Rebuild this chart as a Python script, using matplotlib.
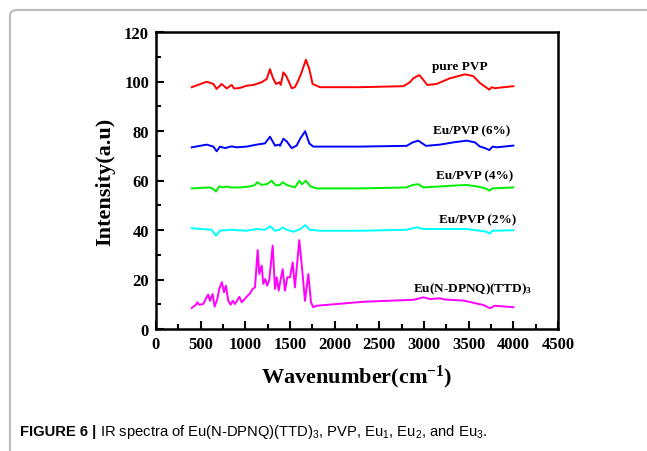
import matplotlib
matplotlib.use("Agg")
import matplotlib.pyplot as plt
from matplotlib.patches import FancyBboxPatch
from matplotlib.ticker import MultipleLocator

plt.rcParams["mathtext.default"] = "regular"

# ---- data ----
pvp_x = [400, 567, 642, 679, 735, 791, 847, 873, 921, 959, 1015, 1090, 1183, 1239, 1276,
         1306, 1343, 1381, 1396, 1426, 1455, 1481, 1519, 1555, 1593, 1630, 1678, 1716,
         1753, 1835, 2283, 2768, 2843, 2880, 2947, 2985, 3037, 3140, 3290, 3458, 3551,
         3626, 3731, 3757, 3793, 4000]
pvp_y = [97.7, 99.9, 99.0, 97.0, 99.0, 97.2, 98.6, 97.2, 97.3, 97.6, 98.3, 98.6, 99.7, 101.0,
         105.0, 101.7, 99.0, 99.7, 98.6, 103.7, 102.4, 100.4, 97.3, 97.7, 100.4, 103.7,
         108.8, 105.0, 99.0, 97.7, 97.7, 98.1, 99.7, 101.3, 102.6, 101.0, 98.6, 99.0,
         101.3, 102.9, 102.2, 99.4, 96.7, 97.7, 97.3, 98.1]

eu6_x = [400, 567, 642, 679, 716, 772, 847, 903, 1015, 1127, 1220, 1276, 1332, 1381, 1388,
         1426, 1463, 1519, 1574, 1619, 1670, 1716, 1760, 2283, 2806, 2873, 2936, 3022,
         3179, 3328, 3477, 3570, 3626, 3682, 3731, 3768, 3812, 4000]
eu6_y = [73.4, 74.5, 73.7, 71.8, 73.7, 73.1, 73.8, 73.4, 73.7, 74.5, 75.0, 77.7, 74.1, 74.5,
         74.0, 76.9, 75.8, 73.1, 74.1, 77.2, 79.9, 75.0, 73.7, 73.7, 74.0, 75.4, 76.1,
         74.0, 74.5, 75.4, 76.1, 75.4, 73.7, 73.1, 72.3, 73.7, 73.4, 74.1]

eu4_x = [400, 604, 642, 671, 708, 753, 791, 828, 940, 1052, 1108, 1134, 1183, 1245, 1294,
         1343, 1388, 1418, 1463, 1519, 1555, 1604, 1633, 1678, 1730, 1798, 2283, 2806,
         2873, 2936, 2992, 3179, 3365, 3477, 3589, 3645, 3701, 3731, 3768, 4000]
eu4_y = [56.8, 57.2, 56.6, 55.5, 57.6, 57.2, 57.6, 57.2, 57.2, 57.6, 58.2, 59.3, 58.2, 58.6,
         59.9, 58.0, 58.2, 59.3, 58.2, 57.6, 57.2, 59.9, 58.5, 59.9, 57.6, 56.8, 56.8,
         57.2, 58.2, 58.5, 57.2, 57.6, 58.0, 58.2, 57.6, 57.2, 56.6, 55.9, 56.8, 57.2]

eu2_x = [400, 622, 671, 716, 828, 1015, 1127, 1220, 1276, 1332, 1381, 1418, 1463, 1537,
         1619, 1670, 1722, 1835, 2283, 2806, 2918, 2992, 3179, 3477, 3626, 3701, 3731,
         3768, 4000]
eu2_y = [40.7, 40.1, 37.7, 39.7, 40.1, 39.7, 40.4, 40.1, 41.5, 39.7, 40.1, 41.0, 40.1, 39.3,
         40.4, 42.0, 40.1, 39.7, 39.7, 40.1, 41.1, 40.4, 40.4, 40.4, 39.7, 39.3, 38.5,
         39.7, 39.9]

com_x = [400, 448, 462, 485, 529, 567, 585, 604, 634, 656, 686, 708, 738, 761, 783, 809,
         836, 858, 884, 933, 959, 1015, 1052, 1082, 1108, 1138, 1156, 1183, 1201, 1223,
         1245, 1268, 1306, 1332, 1351, 1373, 1396, 1418, 1444, 1470, 1500, 1530, 1555,
         1604, 1641, 1668, 1705, 1735, 1760, 1798, 2320, 2880, 2953, 2992, 3067, 3179,
         3235, 3440, 3664, 3738, 3793, 4000]
com_y = [8.5, 9.8, 10.8, 9.8, 10.1, 12.8, 13.9, 11.4, 14.1, 9.0, 12.1, 16.2, 18.9, 14.8,
         17.5, 11.4, 9.8, 11.4, 10.1, 13.0, 10.8, 13.0, 14.4, 16.2, 16.8, 31.9, 22.2, 25.6,
         18.2, 20.2, 17.5, 19.8, 33.7, 16.2, 20.9, 15.5, 20.2, 24.2, 15.5, 20.9, 20.9,
         26.9, 16.8, 35.9, 22.2, 11.4, 22.2, 10.8, 8.8, 9.4, 11.0, 11.8, 12.4, 12.8, 12.1,
         12.4, 11.9, 11.5, 9.7, 8.4, 9.4, 8.8]

labels = ["pure PVP", "Eu/PVP (6%)", "Eu/PVP (4%)", "Eu/PVP (2%)", "Eu(N-DPNQ)(TTD)$_3$"]
label_pos = [(3402, 106.1), (3531, 80.1), (3570, 62.1), (3598, 44.4), (3542, 16.5)]

serif = "Liberation Serif"
sans = "Liberation Sans"

fig = plt.figure(figsize=(6.47, 4.52), dpi=100)

# grey frame around the figure panel
frame = FancyBboxPatch((10 / 647, -0.1), 1.2, (1 - 11 / 452) + 0.1,
                       boxstyle="round,pad=0,rounding_size=0.012",
                       transform=fig.transFigure, fill=False,
                       edgecolor="#bdbdbd", linewidth=1.6)
fig.patches.append(frame)

ax = fig.add_axes([156 / 647, 1 - 330 / 452, (558 - 156) / 647, (330 - 33) / 452])

ax.plot(pvp_x, pvp_y, color="#ff0000", lw=1.4)
ax.plot(eu6_x, eu6_y, color="#0000ff", lw=1.4)
ax.plot(eu4_x, eu4_y, color="#00ee00", lw=1.4)
ax.plot(eu2_x, eu2_y, color="#00ffff", lw=1.4)
ax.plot(com_x, com_y, color="#ff00ff", lw=1.4)

for txt, (x, y) in zip(labels, label_pos):
    ax.text(x, y, txt, ha="center", va="center", fontsize=9.5,
            fontweight="bold", family=serif)

ax.set_xlim(0, 4500)
ax.set_ylim(0, 120)
ax.xaxis.set_major_locator(MultipleLocator(500))
ax.xaxis.set_minor_locator(MultipleLocator(250))
ax.yaxis.set_major_locator(MultipleLocator(20))
ax.yaxis.set_minor_locator(MultipleLocator(10))
ax.tick_params(which="both", direction="in", top=False, right=False, width=1.5)
ax.tick_params(which="major", length=6, pad=5)
ax.tick_params(which="minor", length=3.5)
for lab in ax.get_xticklabels() + ax.get_yticklabels():
    lab.set_family(serif)
    lab.set_fontweight("bold")
    lab.set_fontsize(12)
for sp in ax.spines.values():
    sp.set_linewidth(1.8)

ax.set_xlabel("Wavenumber(cm$^{-1}$)", family=serif, fontweight="bold",
              fontsize=16, labelpad=8)
ax.set_ylabel("Intensity(a.u)", family=serif, fontweight="bold",
              fontsize=16, labelpad=6)

# caption: bold lead-in, then plain text right after it
cap_y = 1 - 432 / 452
head = fig.text(20 / 647, cap_y, "FIGURE 6 |", family=sans,
                fontweight="bold", fontsize=10.6, va="center", ha="left")
fig.canvas.draw()
x1 = head.get_window_extent().x1
fig.text((x1 + 4) / 647, cap_y,
         "IR spectra of Eu(N-DPNQ)(TTD)$_3$, PVP, Eu$_1$, Eu$_2$, and Eu$_3$.",
         family=sans, fontsize=10.6, va="center", ha="left")

fig.savefig("out.png", dpi=100)
